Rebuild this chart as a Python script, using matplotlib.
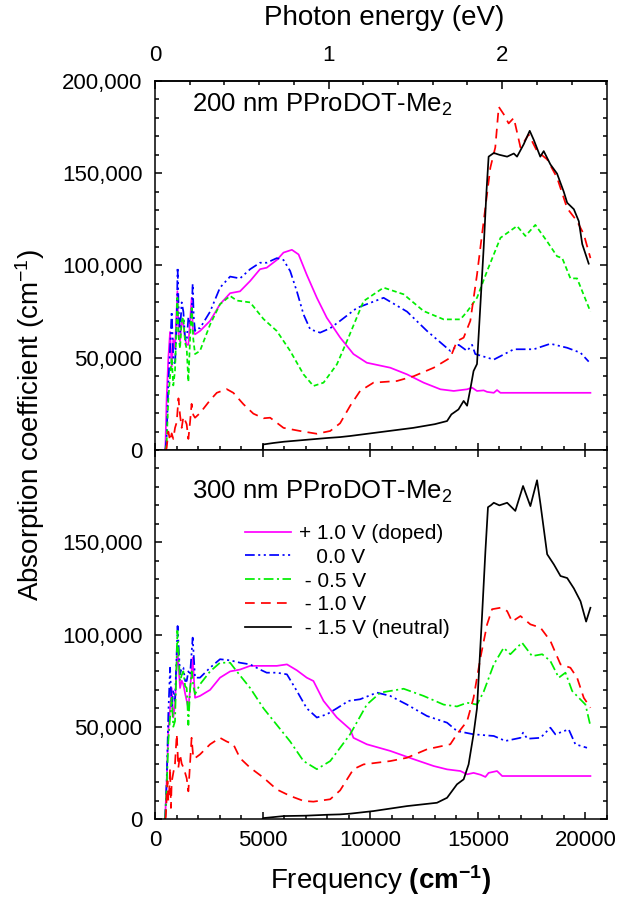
import matplotlib
matplotlib.use("Agg")
import matplotlib.pyplot as plt
from matplotlib.ticker import MultipleLocator, FuncFormatter, FixedLocator

plt.rcParams['font.family'] = ['Liberation Sans', 'DejaVu Sans']
plt.rcParams['mathtext.fontset'] = 'custom'
plt.rcParams['mathtext.rm'] = 'Liberation Sans'
plt.rcParams['mathtext.it'] = 'Liberation Sans:italic'
plt.rcParams['mathtext.bf'] = 'Liberation Sans:bold'
plt.rcParams['lines.scale_dashes'] = False

# ---------------- data: (frequency cm^-1, absorption in 1000 cm^-1) ----------------
panel_titles = ["200 nm PProDOT-Me$_2$", "300 nm PProDOT-Me$_2$"]
legend_labels = ["+ 1.0 V (doped)", "   0.0 V", " - 0.5 V", " - 1.0 V", " - 1.5 V (neutral)"]

mag_200 = [(480,0),(540,28),(620,50),(700,64),(775,45),(850,60),(930,55),(1040,86),(1100,62),(1163,59),(1240,70),(1318,68),(1400,60),(1473,57),(1550,57),(1628,70),(1705,82.5),(1760,65),(1860,62.7),(2090,64.5),(2560,70),(3020,79),(3490,85),(3950,86),(4420,91.6),(4880,98),(5190,98.8),(5660,103),(5970,107),(6360,108.5),(6670,106),(7050,95),(7520,82.5),(7980,71.7),(8600,61),(9220,52),(9840,47.3),(10930,44.6),(11710,41),(12480,36.5),(13260,32.9),(13880,32),(14500,32.9),(14730,33.8),(14960,32),(15270,32.3),(15430,31.5),(15740,31),(15890,32.5),(16050,31),(20230,31)]
blue_200 = [(480,0),(540,7),(620,36),(700,55),(775,75),(850,50),(930,46),(1008,70),(1050,99),(1100,75),(1163,64),(1240,80),(1318,75),(1400,60),(1473,59),(1550,72),(1628,68),(1705,75),(1750,90),(1800,72),(1860,64.5),(1950,66),(2090,66),(2560,75),(3020,88),(3490,94),(3950,93),(4420,98),(4880,101.5),(5190,101.5),(5660,104),(5970,103),(6280,97),(6590,86),(6900,73.5),(7210,65.4),(7670,63.6),(8140,66),(8600,70),(9380,77),(10620,82.5),(11710,75),(12640,64.5),(13720,53.7),(14110,57),(14500,53.7),(14730,57),(14880,52),(15740,49),(16670,54.6),(17600,54.6),(18370,57.6),(19150,55.4),(19770,52.7),(20150,47.9)]
green_200 = [(480,0),(540,3),(620,28),(700,40),(775,50),(850,35),(930,43),(1040,82.5),(1100,61),(1163,55),(1240,70),(1318,72),(1400,58),(1473,55),(1550,37),(1628,60),(1705,77),(1780,60),(1860,52),(2090,53.7),(2560,68),(3020,79),(3490,83.5),(3800,81),(4420,80),(5040,71),(5660,64.5),(6280,53.7),(6900,41),(7360,34.7),(7830,36.5),(8450,46.4),(8990,61),(9690,80.7),(10620,88),(11550,84.4),(12480,75.3),(13410,70.8),(14190,70.8),(14500,75),(14960,82.5),(15430,97),(16050,115),(16820,121.4),(17210,116),(17670,122),(18220,113),(18680,105),(18920,104),(19300,93),(19610,93),(19920,84),(20230,75)]
red_200 = [(480,0),(540,1),(620,10),(700,5),(775,9),(850,6),(930,12),(1008,15),(1090,28),(1163,19),(1240,12),(1318,18),(1400,16),(1470,14),(1550,6),(1628,15),(1700,25),(1780,19),(1860,17.5),(2090,20),(2560,27),(2870,31),(3330,33),(3640,31),(4110,24.8),(4570,19.7),(5040,17.2),(5350,17.5),(5970,12),(6740,10.3),(7520,8.8),(8140,10.3),(8600,14.5),(9070,24),(9530,32),(10150,36.5),(11240,37.4),(12020,40),(12950,44.6),(13720,50),(14030,59),(14340,60.9),(14650,70),(14960,95),(15270,124),(15580,153),(15810,164),(15970,186),(16200,182),(16430,177),(16670,180),(16980,164),(17360,171),(17750,162),(18220,157.5),(18680,147.6),(19150,131),(19610,124),(19920,117),(20230,104)]
black_200 = [(5000,0),(5030,3),(5500,3.8),(6000,4.5),(7000,5.5),(8000,6.5),(8600,7),(9070,7.6),(10000,9),(11000,10.5),(12000,12),(13000,14),(13570,15.7),(13770,19.3),(14100,22),(14340,26.6),(14500,24),(14650,33),(14800,42.8),(14960,46.6),(15100,75),(15270,109.6),(15400,140),(15500,159),(15740,161),(16000,160),(16360,159),(16670,160.7),(16820,159),(17130,165.7),(17410,173),(17600,168),(17900,159),(18060,162),(18370,154.8),(18680,149.8),(18990,140),(19150,134),(19460,130.5),(19690,124),(19850,111.6),(20150,101)]

mag_300 = [(470,0),(543,20.6),(618,47.7),(700,60),(775,71),(850,55),(930,62),(1040,92.8),(1163,71),(1240,75),(1318,73),(1400,68),(1550,60),(1628,70),(1750,87.4),(1860,65.7),(2090,66.7),(2560,70),(3020,76.6),(3490,80),(3950,81),(4420,83),(5190,83),(5660,83),(6130,83.8),(6590,80.6),(7050,76.6),(7360,74.8),(7830,64),(8450,55),(9070,48.6),(9220,44),(9840,40.5),(10930,36.9),(12020,32.4),(12950,28.7),(13570,26.9),(14190,26),(14500,24.2),(14800,25),(15120,24),(15350,22.8),(15500,25),(15890,26),(16130,23.3),(20230,23.3)]
blue_300 = [(470,0),(543,20.6),(618,56.7),(700,82),(775,60),(850,70),(930,64),(1050,104.6),(1163,78.4),(1240,82),(1318,82),(1400,74.8),(1473,74.8),(1550,80),(1628,78),(1750,98.3),(1860,76.6),(2090,76.6),(2560,82),(3020,86.6),(3490,86),(3950,84.7),(4420,83.8),(4880,81),(5190,79.3),(5660,79.3),(6130,78.4),(6590,69.4),(7050,60),(7520,55),(7980,56.7),(8450,60),(8990,64),(9530,64.9),(10310,68.5),(10930,66.7),(11710,62),(12640,55.8),(13570,52.2),(14030,47.7),(14800,45.9),(15740,45),(16280,42.3),(16980,44),(17100,46.8),(17300,43.5),(17910,44),(18370,49.5),(18600,45.9),(19220,48.6),(19530,40.5),(20070,38.6)]
green_300 = [(470,0),(543,17),(618,42),(700,55),(775,65.7),(850,50),(930,53),(1040,102),(1163,74.8),(1240,78),(1318,80),(1400,72),(1473,71),(1550,51),(1628,70),(1705,80),(1780,72),(1860,67.6),(2090,73),(2560,80),(3020,84.7),(3490,84.7),(3800,80),(4420,71),(5040,60),(5660,51),(6280,42),(6900,31.4),(7520,27),(8140,31.4),(8600,38.6),(9070,46),(9840,62),(10470,68.5),(11550,70.6),(12480,66.7),(13410,62),(14030,61),(14500,63),(14960,62),(15270,69),(15740,83.8),(16200,92.8),(16510,89.3),(17050,95.6),(17520,88.3),(17990,89.3),(18370,85.6),(18760,76.6),(19070,79.3),(19380,69.4),(19690,65.7),(20000,62),(20230,50.4)]
red_300 = [(470,0),(500,1),(543,11.5),(580,20.6),(618,9.8),(660,15),(700,27.8),(740,6),(775,20),(850,25),(930,30),(1010,46),(1085,27.8),(1163,35),(1240,30),(1318,28),(1400,25),(1473,22),(1550,15),(1628,30),(1700,44),(1780,33),(1860,33),(2090,35),(2560,40.5),(3020,44),(3330,42),(3640,40.5),(3950,33),(4420,27.8),(5040,22.4),(5660,16),(6280,12.5),(6900,9.8),(7360,9.4),(8140,10.7),(8600,15.5),(9220,27),(9690,29.6),(10930,31.4),(11710,33.2),(12640,37.8),(13720,40.5),(14030,46),(14500,53),(14800,65.7),(15120,87.4),(15430,105.5),(15660,113.7),(16050,114.5),(16360,112.7),(16590,107),(16980,110),(17440,105.5),(17910,103.7),(18370,96.5),(18840,83.8),(19300,82),(19610,76.6),(19920,65.7),(20230,60.3)]
black_300 = [(5000,0),(5040,0.5),(6000,1.6),(7000,1.8),(8000,2.3),(8600,2.5),(9070,2.9),(10150,4.3),(11710,7),(13100,8.8),(13570,11.5),(14030,18.8),(14340,21.5),(14570,29.6),(14800,46),(14960,60),(15190,109),(15350,145),(15470,169),(15600,170),(15740,171.4),(16000,170),(16360,171.4),(16740,167),(17100,180.5),(17440,169.6),(17750,183.6),(17910,170.6),(18220,143.5),(18530,138),(18840,131.7),(19150,130.6),(19460,125),(19770,118),(20030,107),(20230,114.5)]

# ---------------- styles ----------------
colors = ['#FF00FF', '#0000FF', '#00EE00', '#FF0000', '#000000']
dashes_top = [None, (7, 2.5, 1.5, 2.5, 1.5, 2.5), (3.5, 2.2), (7, 4.5), None]
dashes_bot = [None, (7, 2.5, 1.5, 2.5, 1.5, 2.5), (7, 2.5, 1.5, 2.5), (7, 4.5), None]
LW = 1.25
TICK_FS = 16

W, H = 621, 897
fig = plt.figure(figsize=(W / 100, H / 100), dpi=100)
left, right = 155, 607
ax1 = fig.add_axes([left / W, 1 - 450 / H, (right - left) / W, 369 / H])
ax2 = fig.add_axes([left / W, 1 - 819 / H, (right - left) / W, 369 / H])

series_top = [mag_200, blue_200, green_200, red_200, black_200]
series_bot = [mag_300, blue_300, green_300, red_300, black_300]

def draw(ax, series, dashes, with_labels):
    for i, s in enumerate(series):
        xs = [p[0] for p in s]
        ys = [p[1] * 1000 for p in s]
        kw = dict(color=colors[i], lw=LW)
        if with_labels:
            kw['label'] = legend_labels[i]
        line, = ax.plot(xs, ys, **kw)
        if dashes[i] is not None:
            line.set_dashes(dashes[i])

draw(ax1, series_top, dashes_top, False)
draw(ax2, series_bot, dashes_bot, True)

fmt = FuncFormatter(lambda v, p: f"{int(round(v)):,}")
for ax in (ax1, ax2):
    ax.set_xlim(0, 21000)
    ax.set_ylim(0, 200000)
    ax.xaxis.set_major_locator(MultipleLocator(5000))
    ax.xaxis.set_minor_locator(MultipleLocator(1000))
    ax.yaxis.set_minor_locator(MultipleLocator(10000))
    ax.yaxis.set_major_formatter(fmt)
    ax.tick_params(which='both', direction='in', right=True, labelsize=TICK_FS, width=1.1)
    ax.tick_params(which='major', length=5)
    ax.tick_params(which='minor', length=3)
    ax.tick_params(axis='y', pad=9)
    ax.tick_params(axis='x', pad=8)
    for sp in ax.spines.values():
        sp.set_linewidth(1.1)

ax1.yaxis.set_major_locator(FixedLocator([0, 50000, 100000, 150000, 200000]))
ax2.yaxis.set_major_locator(FixedLocator([0, 50000, 100000, 150000]))
ax1.tick_params(axis='x', top=False, labelbottom=False)
ax2.tick_params(axis='x', top=True)

# top axis: photon energy
CM_PER_EV = 8065.54
sec = ax1.secondary_xaxis('top', functions=(lambda x: x / CM_PER_EV, lambda e: e * CM_PER_EV))
sec.xaxis.set_major_locator(FixedLocator([0, 1, 2]))
sec.xaxis.set_minor_locator(MultipleLocator(0.2))
sec.tick_params(which='both', direction='in', labelsize=TICK_FS, width=1.1, pad=11)
sec.tick_params(which='major', length=6)
sec.tick_params(which='minor', length=3)
sec.spines['top'].set_linewidth(1.1)

# panel titles
ax1.text((192 - left) / (right - left), 0.936, panel_titles[0], transform=ax1.transAxes,
         fontsize=18.5, ha='left', va='center')
ax2.text((192 - left) / (right - left), 0.886, panel_titles[1], transform=ax2.transAxes,
         fontsize=18.5, ha='left', va='center')

# legend
ax2.legend(loc='upper left', bbox_to_anchor=((245 - left) / (right - left), (819 - 524) / 369),
           frameon=False, fontsize=15, handlelength=2.2, handletextpad=0.4,
           labelspacing=0.23, borderpad=0, borderaxespad=0)

# axis labels
fig.text(381 / W, 1 - 880 / H, "Frequency $\\mathbf{(cm^{-1})}$", fontsize=20, ha='center', va='center')
fig.text(384 / W, 1 - 18 / H, "Photon energy (eV)", fontsize=20, ha='center', va='center')
fig.text(30 / W, 1 - 425 / H, "Absorption coefficient (cm$^{-1}$)", fontsize=20,
         rotation=90, ha='center', va='center')

fig.savefig("out.png", dpi=100)
